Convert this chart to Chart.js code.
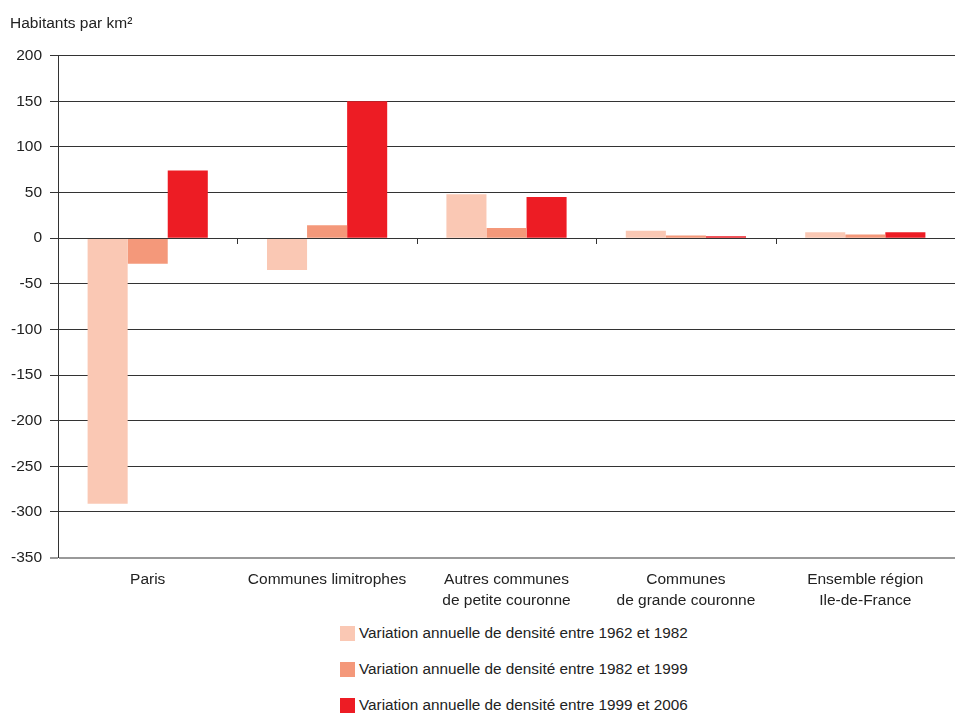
<!DOCTYPE html>
<html>
<head>
<meta charset="utf-8">
<script src="https://cdn.jsdelivr.net/npm/chart.js@4/dist/chart.umd.min.js"></script>
<style>
  body { margin: 0; background: #fff; font-family: "Liberation Sans", Arial, sans-serif; }
  #wrap { position: relative; width: 957px; height: 713px; overflow: hidden; }
  #chart { position: absolute; left: 0; top: 0; }
  #legend { position: absolute; left: 340px; top: 615px; }
  .item { display: flex; align-items: center; height: 36px; font-size: 15.3px; color: #222; }
  .box { width: 15px; height: 15px; margin-right: 4px; }
</style>
</head>
<body>
<div id="wrap">
  <canvas id="chart" width="957" height="615"></canvas>
  <div id="legend"></div>
</div>
<script>
const categories = [
  'Paris',
  'Communes limitrophes',
  ['Autres communes', 'de petite couronne'],
  ['Communes', 'de grande couronne'],
  ['Ensemble région', 'Ile-de-France']
];
const seriesNames = [
  'Variation annuelle de densité entre 1962 et 1982',
  'Variation annuelle de densité entre 1982 et 1999',
  'Variation annuelle de densité entre 1999 et 2006'
];
const v1962_1982 = [-291, -35, 48, 8, 6.5];
const v1982_1999 = [-28, 14, 11, 3, 4];
const v1999_2006 = [74, 150, 45, 2, 6.5];
const yTicks = [200, 150, 100, 50, 0, -50, -100, -150, -200, -250, -300, -350];
const colors = ['#FAC8B4', '#F4987A', '#ED1C24'];

const fontFamily = '"Liberation Sans", Arial, sans-serif';

function el(id) { return document.getElementById(id); }

// small tick marks on the zero line between categories
const zeroTicks = {
  id: 'zeroTicks',
  afterDatasetsDraw(chart) {
    const { ctx, scales: { x, y } } = chart;
    const y0 = Math.round(y.getPixelForValue(0));
    ctx.save();
    ctx.strokeStyle = '#333';
    ctx.lineWidth = 1;
    ctx.beginPath();
    ctx.moveTo(x.left, y0 + 0.5);
    ctx.lineTo(x.right, y0 + 0.5);
    for (let i = 1; i < categories.length; i++) {
      const px = Math.round((x.getPixelForValue(i - 1) + x.getPixelForValue(i)) / 2) + 0.5;
      ctx.moveTo(px, y0);
      ctx.lineTo(px, y0 + 6);
    }
    ctx.stroke();
    ctx.restore();
  }
};

const datasets = [v1962_1982, v1982_1999, v1999_2006].map((data, i) => ({
  label: seriesNames[i],
  data,
  backgroundColor: colors[i],
  borderWidth: 0,
  barPercentage: 1,
  categoryPercentage: 0.67
}));

new Chart(el('chart'), {
  type: 'bar',
  data: { labels: categories, datasets },
  plugins: [zeroTicks],
  options: {
    responsive: false,
    animation: false,
    layout: { padding: { left: 10, right: 2, top: 4, bottom: 0 } },
    plugins: {
      legend: { display: false },
      tooltip: { enabled: false },
      title: {
        display: true,
        text: 'Habitants par km²',
        align: 'start',
        color: '#222',
        font: { family: fontFamily, size: 15.5, weight: 'normal' },
        padding: { top: 10, bottom: 23 }
      }
    },
    scales: {
      x: {
        grid: { display: false },
        border: { display: false },
        ticks: {
          color: '#222',
          font: { family: fontFamily, size: 15.5, lineHeight: 1.4 },
          padding: 3,
          maxRotation: 0,
          autoSkip: false
        }
      },
      y: {
        min: -350,
        max: 200,
        afterBuildTicks(scale) { scale.ticks = yTicks.map(v => ({ value: v })); },
        afterFit(scale) { scale.width = 48; },
        border: { display: true, color: '#333', width: 1 },
        grid: {
          color: ctx => ctx.tick && ctx.tick.value === -350 ? '#999' : '#333',
          lineWidth: ctx => ctx.tick && ctx.tick.value === -350 ? 2 : 1,
          tickLength: 8
        },
        ticks: {
          color: '#222',
          font: { family: fontFamily, size: 15.5 },
          padding: 8
        }
      }
    }
  }
});

// HTML legend, one line per series
const legend = el('legend');
datasets.forEach(ds => {
  const row = document.createElement('div');
  row.className = 'item';
  row.innerHTML = `<span class="box" style="background:${ds.backgroundColor}"></span><span>${ds.label}</span>`;
  legend.appendChild(row);
});
</script>
</body>
</html>
